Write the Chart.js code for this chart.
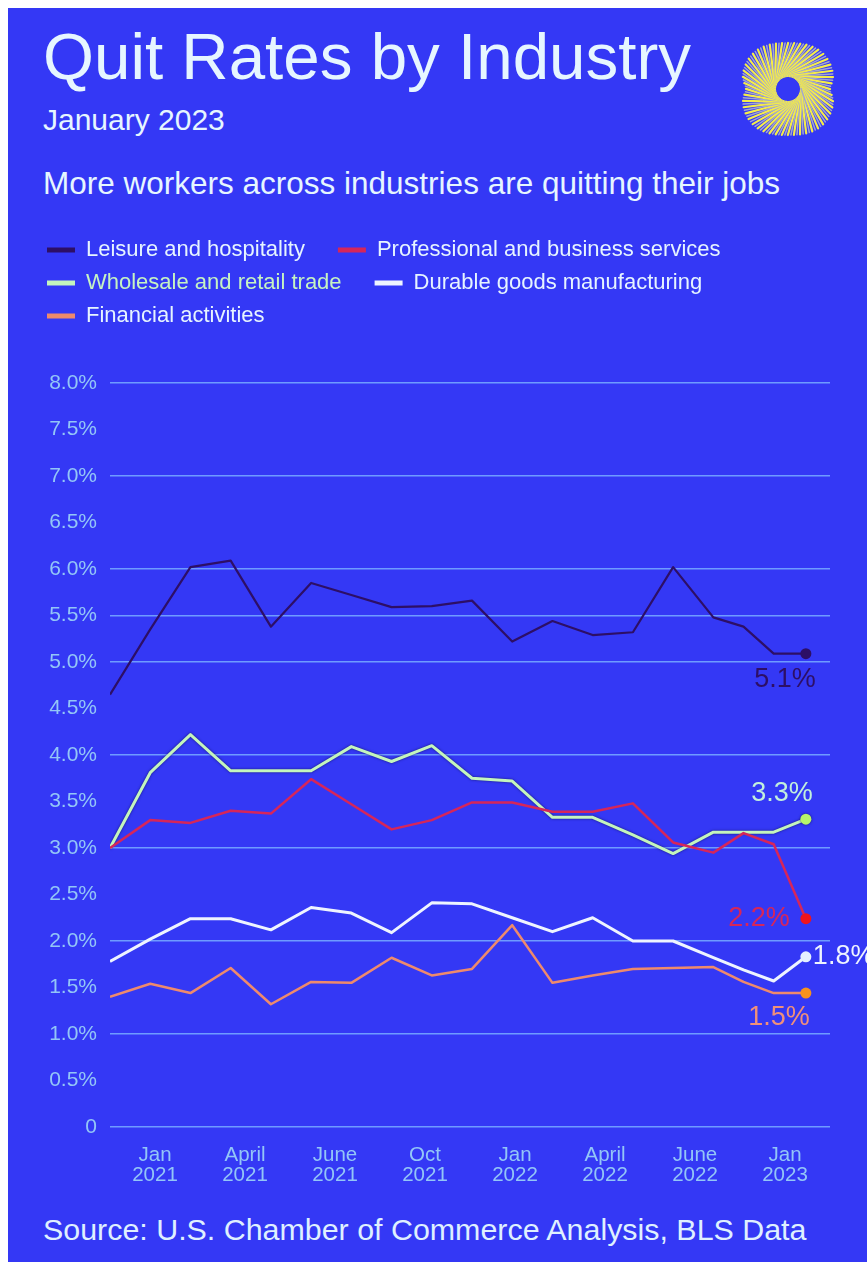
<!DOCTYPE html>
<html><head><meta charset="utf-8">
<script src="https://cdn.jsdelivr.net/npm/chart.js@4.4.1/dist/chart.umd.min.js"></script>
<style>
html,body{margin:0;padding:0;background:#fff;}
body{width:867px;height:1270px;position:relative;overflow:hidden;font-family:'Liberation Sans',Arial,sans-serif;}
#bg{position:absolute;left:8px;top:8px;width:859px;height:1254px;background:#3438f5;}
.t{position:absolute;left:43px;line-height:1;color:#e6f6ff;white-space:nowrap;margin:0;font-weight:normal;}
#title{top:24px;font-size:65.5px;}
#date{top:104.6px;font-size:30px;}
#tag{top:168.3px;font-size:31.5px;}
#src{top:1214.3px;font-size:30.4px;color:#dff0ff;}
#chartWrap{position:absolute;left:0;top:216px;width:867px;height:971px;}
#c{display:block;}
#logo{position:absolute;left:735px;top:37px;}
</style></head><body>
<div id="bg"></div>
<h1 class="t" id="title">Quit Rates by Industry</h1>
<div class="t" id="date">January 2023</div>
<div class="t" id="tag">More workers across industries are quitting their jobs</div>
<svg id="logo" width="110" height="110" viewBox="0 0 110 110"></svg>
<div id="chartWrap"><canvas id="c" width="867" height="971"></canvas></div>
<div class="t" id="src">Source: U.S. Chamber of Commerce Analysis, BLS Data</div>
<script>
// ---- data ----
const period = [0,1,2,3,4,5,6,7,8,9,10,11,12,13,14,15,15.75,16.5,17.3];
const seriesNames = ['Leisure and hospitality','Professional and business services','Wholesale and retail trade','Durable goods manufacturing','Financial activities'];
const leisure      = [4.65,5.35,6.02,6.09,5.38,5.85,5.72,5.59,5.60,5.66,5.22,5.44,5.29,5.32,6.02,5.48,5.38,5.09,5.09];
const professional = [3.00,3.30,3.27,3.40,3.37,3.74,3.47,3.20,3.30,3.49,3.49,3.39,3.39,3.48,3.06,2.95,3.16,3.04,2.24];
const wholesale    = [3.00,3.81,4.22,3.83,3.83,3.83,4.09,3.93,4.10,3.75,3.72,3.33,3.33,3.14,2.94,3.17,3.17,3.17,3.31];
const durable      = [1.78,2.02,2.24,2.24,2.12,2.36,2.30,2.09,2.41,2.40,2.25,2.10,2.25,2.00,2.00,1.82,1.69,1.57,1.83];
const financial    = [1.40,1.54,1.44,1.71,1.32,1.56,1.55,1.82,1.63,1.70,2.17,1.55,1.63,1.70,1.71,1.72,1.56,1.44,1.44];
const endLabels = ['5.1%','2.2%','3.3%','1.8%','1.5%'];
const xTickLabels = [['Jan','2021'],['April','2021'],['June','2021'],['Oct','2021'],['Jan','2022'],['April','2022'],['June','2022'],['Jan','2023']];
const gridLevels = [0,1,2,3,4,5,5.5,6,7,8];

// ---- styles ----
const FONT = "'Liberation Sans', Arial, sans-serif";
const styles = [
  {line:'#2d0f66', dot:'#2d0f66', text:'#e6f4ff', label:'#2d0f66', w:2.2, dx:10, dy:26, align:'right'},
  {line:'#d6265a', dot:'#f0141e', text:'#e6f4ff', label:'#d6265a', w:2.5, dx:-16, dy:0, align:'right'},
  {line:'#c4f5bd', dot:'#b6f56a', text:'#c6f3c2', label:'#c2f0dc', w:3, dx:7, dy:-26, align:'right', shadow:true},
  {line:'#eef4ff', dot:'#e4f0ff', text:'#e6f4ff', label:'#eef4ff', w:3, dx:7, dy:0, align:'left'},
  {line:'#ee8a6c', dot:'#f7921e', text:'#e6f4ff', label:'#f0907a', w:2.5, dx:4, dy:24, align:'right'}
];
const seriesValues = [leisure, professional, wholesale, durable, financial];

const datasets = seriesValues.map((vals, i) => ({
  label: seriesNames[i],
  data: vals.map((v, j) => ({x: period[j], y: v})),
  borderColor: styles[i].line,
  backgroundColor: styles[i].line,
  borderWidth: styles[i].w,
  borderJoinStyle: 'round',
  pointRadius: ctx => ctx.dataIndex === vals.length - 1 ? 5.5 : 0,
  pointBackgroundColor: styles[i].dot,
  pointBorderWidth: 0,
  tension: 0,
  xAxisID: 'x', yAxisID: 'y'
}));

const shadowPlugin = {
  id: 'lineShadow',
  beforeDatasetDraw(chart, args) {
    if (styles[args.index] && styles[args.index].shadow) {
      const ctx = chart.ctx;
      ctx.save();
      ctx.shadowColor = 'rgba(15,15,70,0.75)';
      ctx.shadowBlur = 2.5;
    }
  },
  afterDatasetDraw(chart, args) {
    if (styles[args.index] && styles[args.index].shadow) chart.ctx.restore();
  }
};

const endLabelPlugin = {
  id: 'endLabels',
  afterDatasetsDraw(chart) {
    const ctx = chart.ctx;
    ctx.save();
    ctx.font = "27px " + FONT;
    ctx.textBaseline = 'middle';
    chart.data.datasets.forEach((ds, i) => {
      const meta = chart.getDatasetMeta(i);
      const el = meta.data[meta.data.length - 1];
      const s = styles[i];
      ctx.fillStyle = s.label;
      ctx.textAlign = s.align;
      ctx.fillText(endLabels[i], el.x + s.dx, el.y + s.dy);
    });
    ctx.restore();
  }
};

new Chart(document.getElementById('c'), {
  type: 'line',
  data: { datasets },
  options: {
    responsive: false,
    animation: false,
    layout: { padding: { top: 12, left: 36, right: 37, bottom: 0 } },
    plugins: {
      tooltip: { enabled: false },
      legend: {
        position: 'top',
        align: 'start',
        labels: {
          boxWidth: 28, boxHeight: 5, padding: 11,
          font: { size: 22, family: FONT },
          color: '#e6f4ff',
          generateLabels(chart) {
            const items = Chart.defaults.plugins.legend.labels.generateLabels(chart);
            return items.map((it, i) => Object.assign(it, {
              text: it.text + '\u2003',
              fillStyle: styles[i].line,
              strokeStyle: styles[i].line,
              lineWidth: 0,
              fontColor: styles[i].text
            }));
          }
        }
      }
    },
    scales: {
      x: {
        type: 'linear', position: 'top', min: 0, max: 17.9,
        grid: { display: false, drawTicks: false },
        border: { display: false },
        ticks: { display: false },
        afterFit(s) { s.height = 46; }
      },
      xl: {
        type: 'category', labels: xTickLabels, position: 'bottom', offset: true,
        grid: { display: false, drawTicks: false },
        border: { display: false },
        ticks: { color: '#93c6f7', padding: 18, maxRotation: 0, autoSkip: false,
                 font: { size: 20.5, family: FONT, lineHeight: 1 } },
        afterFit(s) { s.height = 60; }
      },
      y: {
        min: 0, max: 8,
        ticks: {
          stepSize: 0.5, padding: 13, color: '#93c6f7', autoSkip: false,
          font: { size: 21, family: FONT },
          callback: v => v === 0 ? '0' : v.toFixed(1) + '%'
        },
        grid: {
          drawTicks: false, lineWidth: 1.5,
          color: c => gridLevels.includes(c.tick.value) ? '#6e9bff' : 'rgba(0,0,0,0)'
        },
        border: { display: false },
        afterFit(s) { s.width = 74; }
      }
    }
  },
  plugins: [shadowPlugin, endLabelPlugin]
});

// ---- decorative logo ----
(function(){
  const svg = document.getElementById('logo');
  const cx = 53, cy = 52, N = 96, twist = 1.05, r0 = 13;
  const outer = b => {
    const c = Math.abs(Math.cos(b)), s = Math.abs(Math.sin(b)), p = 2.6;
    let R = 46 / Math.pow(Math.pow(c, p) + Math.pow(s, p), 1 / p);
    R -= 4 * Math.exp(-Math.pow(Math.sin(b), 2) / 0.03);
    return Math.min(R, 50);
  };
  let html = '';
  for (let k = 0; k < N; k++) {
    const a = k / N * Math.PI * 2;
    const b = a + twist;
    const x1 = cx + r0 * Math.cos(a), y1 = cy + r0 * Math.sin(a);
    const R = outer(b);
    const x2 = cx + R * Math.cos(b), y2 = cy + R * Math.sin(b);
    const col = k % 2 === 0 ? '#f4ec4a' : '#a3a6cf';
    const w = k % 2 === 0 ? 2.2 : 1.5;
    html += `<line x1="${x1.toFixed(2)}" y1="${y1.toFixed(2)}" x2="${x2.toFixed(2)}" y2="${y2.toFixed(2)}" stroke="${col}" stroke-width="${w}" stroke-linecap="round"/>`;
  }
  svg.innerHTML = html;
})();
</script>
</body></html>
